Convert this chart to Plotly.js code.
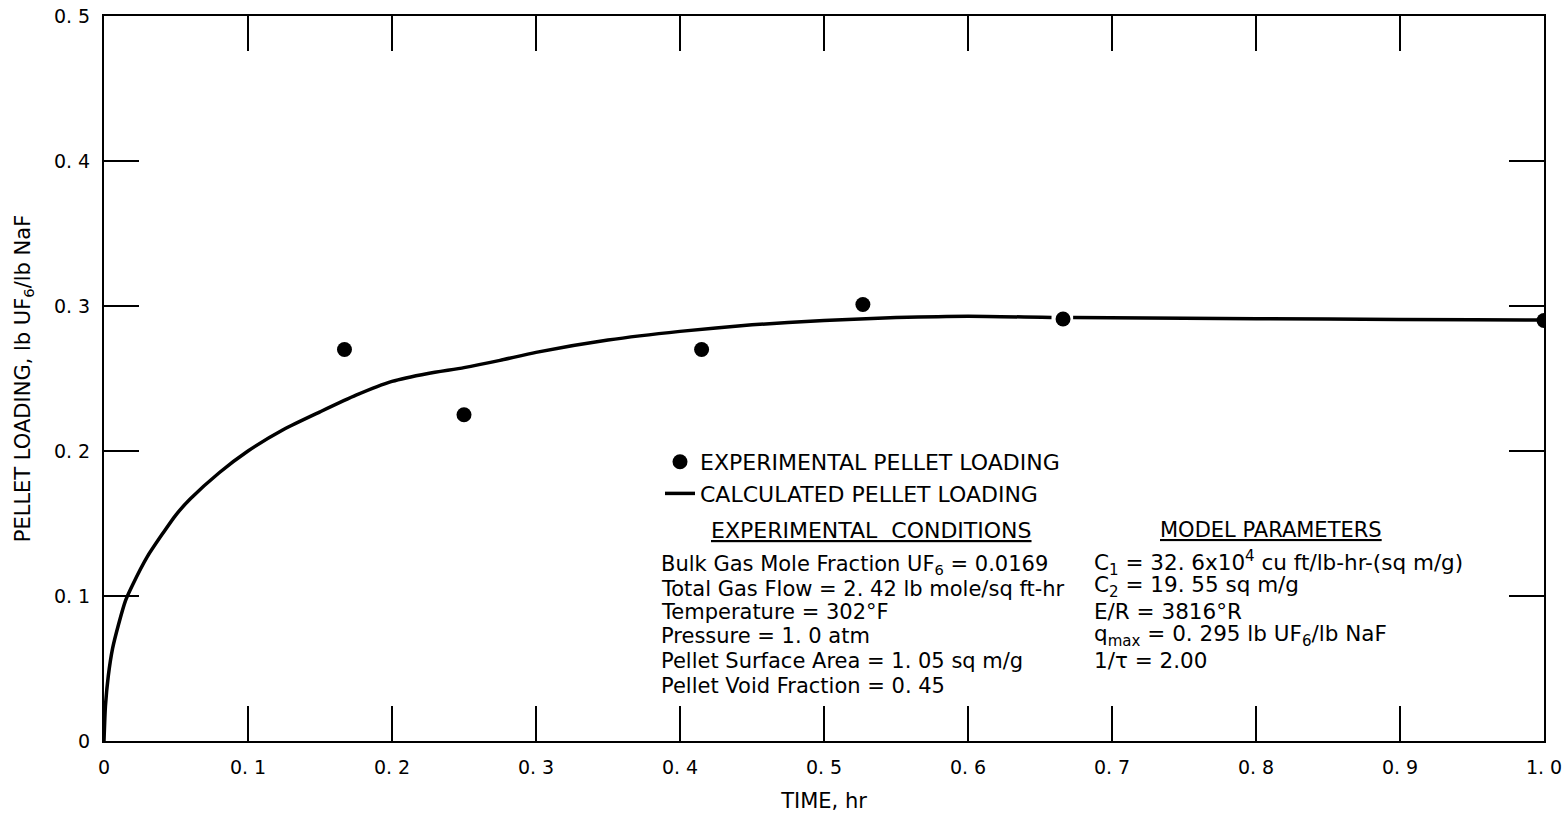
<!DOCTYPE html>
<html>
<head>
<meta charset="utf-8">
<script src="https://cdn.plot.ly/plotly-3.0.1.min.js"></script>
<style>
  html, body { margin: 0; padding: 0; background: #ffffff; }
  #chart { width: 1568px; height: 818px; }
</style>
</head>
<body>
<div id="chart"></div>
<script>
// Calculated pellet loading curve (null leaves a break around the 0.667 hr point)
const timeCalc = [0, 0.001, 0.003, 0.006, 0.01, 0.015, 0.02, 0.03, 0.04, 0.05, 0.06, 0.08, 0.1,
                  0.125, 0.15, 0.175, 0.2, 0.225, 0.25, 0.275, 0.3, 0.35, 0.4, 0.45, 0.5, 0.55, 0.6, 0.658,
                  0.666, 0.673, 0.75, 0.85, 0.95, 1.0];
const loadingCalc = [0, 0.024, 0.045, 0.064, 0.08, 0.097, 0.108, 0.127, 0.142, 0.156, 0.167, 0.185, 0.2,
                     0.215, 0.227, 0.2385, 0.248, 0.2535, 0.2575, 0.2625, 0.268, 0.2765, 0.2825, 0.287, 0.29, 0.292, 0.293, 0.292,
                     null, 0.292, 0.2915, 0.291, 0.2905, 0.2903];

// Experimental pellet loading
const timeExp = [0.167, 0.25, 0.415, 0.527, 0.666, 1.0];
const loadingExp = [0.27, 0.225, 0.27, 0.301, 0.291, 0.29];

// Tick labels
const xTickVals = [0, 0.1, 0.2, 0.3, 0.4, 0.5, 0.6, 0.7, 0.8, 0.9, 1.0];
const xTickText = ['0', '0. 1', '0. 2', '0. 3', '0. 4', '0. 5', '0. 6', '0. 7', '0. 8', '0. 9', '1. 0'];
const yTickVals = [0, 0.1, 0.2, 0.3, 0.4, 0.5];
const yTickText = ['0', '0. 1', '0. 2', '0. 3', '0. 4', '0. 5'];

// Text blocks
const conditionsHeading = '<u>EXPERIMENTAL  CONDITIONS</u>';
const conditionLines = [
  'Bulk Gas Mole Fraction UF<sub>6</sub> = 0.0169',
  'Total Gas Flow = 2. 42 lb mole/sq ft-hr',
  'Temperature = 302°F',
  'Pressure = 1. 0 atm',
  'Pellet Surface Area = 1. 05 sq m/g',
  'Pellet Void Fraction = 0. 45'
];
const parametersHeading = '<u>MODEL PARAMETERS</u>';
const parameterLines = [
  'C<sub>1</sub> = 32. 6x10<sup>4</sup> cu ft/lb-hr-(sq m/g)',
  'C<sub>2</sub> = 19. 55 sq m/g',
  'E/R = 3816°R',
  'q<sub>max</sub> = 0. 295 lb UF<sub>6</sub>/lb NaF',
  '1/τ = 2.00'
];

const FONT = 'DejaVu Sans, sans-serif';
const W = 1568, H = 818;
const M = { l: 104, r: 24, t: 16, b: 77 };
const plotW = W - M.l - M.r, plotH = H - M.t - M.b;
// pixel -> paper helpers for text placement
const px = v => (v - M.l) / plotW;
const py = v => (H - M.b - v) / plotH;

const traces = [
  {
    x: timeExp, y: loadingExp,
    type: 'scatter', mode: 'markers',
    name: 'EXPERIMENTAL PELLET LOADING',
    legendgroup: 'exp',
    marker: { color: '#000', size: 15, line: { width: 0 } }
  },
  {
    x: timeCalc, y: loadingCalc,
    type: 'scatter', mode: 'lines',
    name: 'CALCULATED PELLET LOADING',
    legendgroup: 'calc',
    connectgaps: false,
    line: { color: '#000', width: 3.5, shape: 'spline', smoothing: 0.6 }
  }
];

const annotations = [];
annotations.push({
  xref: 'paper', yref: 'paper', x: px(871), y: py(530),
  xanchor: 'center', yanchor: 'middle', showarrow: false,
  text: conditionsHeading, font: { family: FONT, size: 22, color: '#000' }
});
annotations.push({
  xref: 'paper', yref: 'paper', x: px(1271), y: py(530),
  xanchor: 'center', yanchor: 'middle', showarrow: false,
  text: parametersHeading, font: { family: FONT, size: 21, color: '#000' }
});
const condY = [565, 589, 612, 636, 661, 686];
conditionLines.forEach((t, i) => annotations.push({
  xref: 'paper', yref: 'paper', x: px(659), y: py(condY[i]),
  xanchor: 'left', yanchor: 'middle', showarrow: false, align: 'left',
  text: t, font: { family: FONT, size: 21, color: '#000' }
}));
const parY = [563, 586, 611, 635, 660];
parameterLines.forEach((t, i) => annotations.push({
  xref: 'paper', yref: 'paper', x: px(1092), y: py(parY[i]),
  xanchor: 'left', yanchor: 'middle', showarrow: false, align: 'left',
  text: t, font: { family: FONT, size: 21.5, color: '#000' }
}));

const axisCommon = {
  showgrid: false, zeroline: false,
  showline: true, linecolor: '#000', linewidth: 2,
  mirror: 'allticks', ticks: 'inside', ticklen: 35, tickwidth: 1.3, tickcolor: '#000',
  tickfont: { family: FONT, size: 19, color: '#000' },
  ticklabelstandoff: 8
};

const layout = {
  width: W, height: H,
  margin: M,
  paper_bgcolor: '#fff', plot_bgcolor: '#fff',
  font: { family: FONT, color: '#000' },
  showlegend: true,
  legend: {
    x: px(660), y: py(441), xanchor: 'left', yanchor: 'top',
    bgcolor: 'rgba(0,0,0,0)', borderwidth: 0,
    font: { family: FONT, size: 22, color: '#000' },
    traceorder: 'grouped', tracegroupgap: 0
  },
  xaxis: Object.assign({}, axisCommon, {
    range: [0, 1], tickmode: 'array', tickvals: xTickVals, ticktext: xTickText,
    title: { text: 'TIME, hr', font: { family: FONT, size: 21, color: '#000' }, standoff: 17 }
  }),
  yaxis: Object.assign({}, axisCommon, {
    range: [0, 0.5], tickmode: 'array', tickvals: yTickVals, ticktext: yTickText,
    title: { text: 'PELLET LOADING, lb UF<sub>6</sub>/lb NaF', font: { family: FONT, size: 21, color: '#000' }, standoff: 18 }
  }),
  annotations: annotations
};

Plotly.newPlot('chart', traces, layout, { displayModeBar: false, staticPlot: true });
</script>
</body>
</html>
